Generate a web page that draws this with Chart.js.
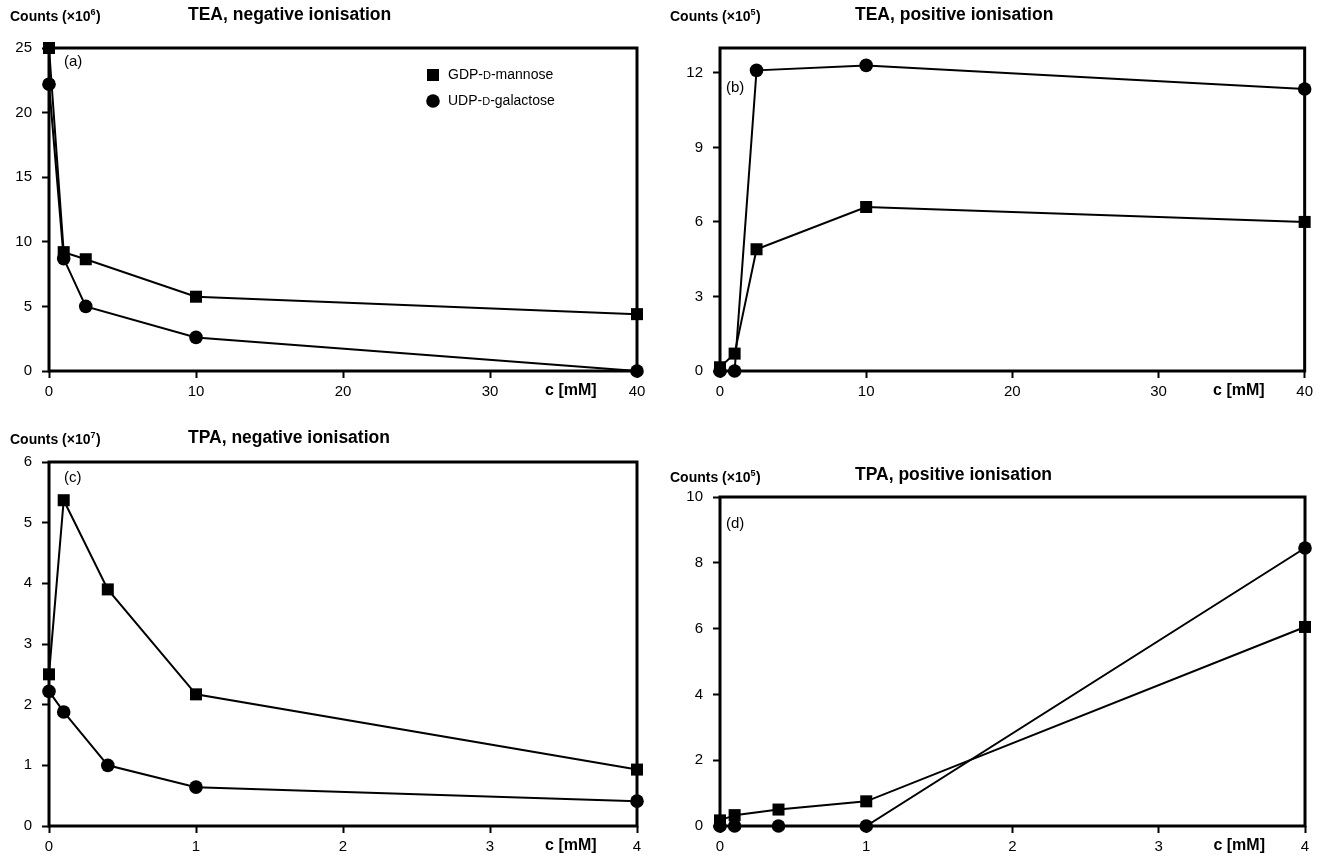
<!DOCTYPE html>
<html><head><meta charset="utf-8">
<script src="https://cdn.jsdelivr.net/npm/chart.js@4.4.0/dist/chart.umd.min.js"></script>
<style>
html,body{margin:0;padding:0;background:#fff}
body{width:1318px;height:860px;overflow:hidden;position:relative}
.p{position:absolute}
canvas{display:block}
</style></head><body>
<div class="p" style="left:0;top:0"><canvas id="ca" width="659" height="430"></canvas></div>
<div class="p" style="left:659px;top:0"><canvas id="cb" width="659" height="430"></canvas></div>
<div class="p" style="left:0;top:430px"><canvas id="cc" width="659" height="430"></canvas></div>
<div class="p" style="left:659px;top:430px"><canvas id="cd" width="659" height="430"></canvas></div>
<script>
// ---- data ----
const concTEA = [0, 1, 2.5, 10, 40];
const concTPA = [0, 0.1, 0.4, 1, 4];
const teaNegGDP = [25, 9.2, 8.65, 5.75, 4.4];
const teaNegUDP = [22.2, 8.7, 5.0, 2.6, 0];
const teaPosGDP = [0.15, 0.7, 4.9, 6.6, 6.0];
const teaPosUDP = [0, 0, 12.1, 12.3, 11.35];
const tpaNegGDP = [2.5, 5.37, 3.9, 2.17, 0.93];
const tpaNegUDP = [2.22, 1.88, 1.0, 0.64, 0.41];
const tpaPosGDP = [0.17, 0.33, 0.5, 0.75, 6.05];
const tpaPosUDP = [0, 0, 0, 0, 8.45];
const xTicksTEA = [0, 10, 20, 30, 40];
const xTicksTPA = [0, 1, 2, 3, 4];
const yTicksA = [0, 5, 10, 15, 20, 25];
const yTicksB = [0, 3, 6, 9, 12];
const yTicksC = [0, 1, 2, 3, 4, 5, 6];
const yTicksD = [0, 2, 4, 6, 8, 10];
const seriesNames = ['GDP-', 'D', '-mannose', 'UDP-', 'D', '-galactose'];

const FAM = '"Liberation Sans", Arial, sans-serif';
const XH = 34;

function drawCounts(ctx, x, y, exp) {
  ctx.fillStyle = '#000';
  ctx.textBaseline = 'middle';
  ctx.textAlign = 'left';
  ctx.font = 'bold 14px ' + FAM;
  const a = 'Counts (\u00d710';
  ctx.fillText(a, x, y);
  let w = ctx.measureText(a).width;
  ctx.font = 'bold 9px ' + FAM;
  ctx.fillText(exp, x + w, y - 4);
  w += ctx.measureText(exp).width + 0.5;
  ctx.font = 'bold 14px ' + FAM;
  ctx.fillText(')', x + w, y);
}
function drawSC(ctx, parts, x, y) {
  ctx.textBaseline = 'middle';
  ctx.textAlign = 'left';
  let cx = x;
  parts.forEach((p, i) => {
    ctx.font = (i === 1 ? '11px ' : '14px ') + FAM;
    ctx.fillText(p, cx, y + (i === 1 ? 1 : 0));
    cx += ctx.measureText(p).width;
  });
}

function makeChart(id, area, xs, gdp, udp, xTicks, yTicks, yMax, deco) {
  const cv = document.getElementById(id);
  const W = cv.width, H = cv.height;
  const boxPlugin = {
    id: 'box' + id,
    beforeDatasetsDraw(chart) {
      const c = chart.ctx, a = chart.chartArea;
      c.save();
      c.strokeStyle = '#000';
      c.lineWidth = 3;
      c.strokeRect(a.left, a.top, a.right - a.left, a.bottom - a.top);
      c.restore();
    },
    afterDraw(chart) {
      const c = chart.ctx;
      c.save();
      c.fillStyle = '#000';
      deco(c, chart);
      c.restore();
    }
  };
  return new Chart(cv, {
    type: 'line',
    data: {
      datasets: [
        { label: 'GDP-D-mannose', data: xs.map((x, i) => ({ x: x, y: gdp[i] })),
          borderColor: '#000', backgroundColor: '#000', borderWidth: 2,
          pointStyle: 'rect', pointRadius: 8.5, pointBorderWidth: 0, pointBackgroundColor: '#000',
          tension: 0, clip: false, order: 2 },
        { label: 'UDP-D-galactose', data: xs.map((x, i) => ({ x: x, y: udp[i] })),
          borderColor: '#000', backgroundColor: '#000', borderWidth: 2,
          pointStyle: 'circle', pointRadius: 6.8, pointBorderWidth: 0, pointBackgroundColor: '#000',
          tension: 0, clip: false, order: 1 }
      ]
    },
    options: {
      responsive: false, animation: false, devicePixelRatio: 1,
      layout: { padding: { left: 0, top: area.t, right: W - area.r, bottom: H - area.b - XH } },
      plugins: { legend: { display: false }, tooltip: { enabled: false }, title: { display: false } },
      scales: {
        x: {
          type: 'linear', min: xTicks[0], max: xTicks[xTicks.length - 1],
          afterBuildTicks: s => { s.ticks = xTicks.map(v => ({ value: v })); },
          afterFit: s => { s.height = XH; },
          grid: { drawOnChartArea: false, drawTicks: true, tickLength: 7, tickWidth: 2, tickColor: '#000', color: '#000' },
          border: { display: false },
          ticks: { color: '#000', font: { size: 15, family: FAM }, padding: 5, maxRotation: 0, autoSkip: false }
        },
        y: {
          type: 'linear', min: 0, max: yMax,
          afterBuildTicks: s => { s.ticks = yTicks.map(v => ({ value: v })); },
          afterFit: s => { s.width = area.l; },
          grid: { drawOnChartArea: false, drawTicks: true, tickLength: 7, tickWidth: 2, tickColor: '#000', color: '#000' },
          border: { display: false },
          ticks: { color: '#000', font: { size: 15, family: FAM }, padding: 10, autoSkip: false }
        }
      }
    },
    plugins: [boxPlugin]
  });
}

function cLabel(c, chart, v) {
  const xs = chart.scales.x;
  c.font = 'bold 16px ' + FAM;
  c.textAlign = 'center';
  c.textBaseline = 'middle';
  c.fillText('c [mM]', xs.getPixelForValue(v), chart.chartArea.bottom + 20);
}
function panelTag(c, t, x, y) {
  c.font = '15px ' + FAM;
  c.textAlign = 'left';
  c.textBaseline = 'middle';
  c.fillText(t, x, y);
}
function title(c, t, x, y) {
  c.font = 'bold 17.5px ' + FAM; c.textAlign = 'left'; c.textBaseline = 'middle';
  c.fillText(t, x, y);
}

makeChart('ca', { l: 49, t: 48, r: 637, b: 371 }, concTEA, teaNegGDP, teaNegUDP, xTicksTEA, yTicksA, 25, (c, ch) => {
  drawCounts(c, 10, 17, '6');
  title(c, 'TEA, negative ionisation', 188, 15);
  panelTag(c, '(a)', 64, 62);
  cLabel(c, ch, 35.5);
  // legend
  c.fillRect(427, 69, 12, 12);
  c.beginPath(); c.arc(433, 101, 6.8, 0, Math.PI * 2); c.fill();
  drawSC(c, seriesNames.slice(0, 3), 448, 75);
  drawSC(c, seriesNames.slice(3, 6), 448, 101);
});
makeChart('cb', { l: 61, t: 48, r: 646, b: 371 }, concTEA, teaPosGDP, teaPosUDP, xTicksTEA, yTicksB, 13, (c, ch) => {
  drawCounts(c, 11, 17, '5');
  title(c, 'TEA, positive ionisation', 196, 15);
  panelTag(c, '(b)', 67, 88);
  cLabel(c, ch, 35.5);
});
makeChart('cc', { l: 49, t: 32, r: 637, b: 396 }, concTPA, tpaNegGDP, tpaNegUDP, xTicksTPA, yTicksC, 6, (c, ch) => {
  drawCounts(c, 10, 10, '7');
  title(c, 'TPA, negative ionisation', 188, 8);
  panelTag(c, '(c)', 64, 48);
  cLabel(c, ch, 3.55);
});
makeChart('cd', { l: 61, t: 67, r: 646, b: 396 }, concTPA, tpaPosGDP, tpaPosUDP, xTicksTPA, yTicksD, 10, (c, ch) => {
  drawCounts(c, 11, 48, '5');
  title(c, 'TPA, positive ionisation', 196, 45);
  panelTag(c, '(d)', 67, 94);
  cLabel(c, ch, 3.55);
});
</script>
</body></html>
